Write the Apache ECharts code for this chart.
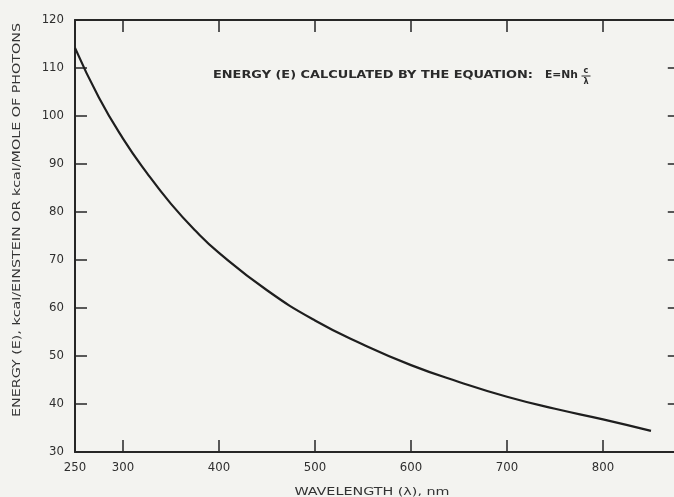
<!DOCTYPE html>
<html>
<head>
<meta charset="utf-8">
<script src="https://cdn.jsdelivr.net/npm/echarts@6/dist/echarts.min.js"></script>
<style>html,body{margin:0;padding:0;background:#f3f3f0}#c{width:674px;height:497px}</style>
</head>
<body>
<div id="c"></div>
<script>
// Data
const wavelengths = [250, 275, 300, 325, 350, 375, 400, 450, 500, 550, 600, 650, 700, 750, 800, 850];
const energies    = [114.2, 103.8, 95.3, 88.1, 81.7, 76.2, 71.5, 63.7, 57.4, 52.4, 48.1, 44.6, 41.5, 39.0, 36.8, 34.4];
const xLabelValues = [250, 300, 400, 500, 600, 700, 800];
const xTickValues  = [300, 400, 500, 600, 700, 800];
const yTickValues  = [40, 50, 60, 70, 80, 90, 100, 110];
const yLabelValues = [30, 40, 50, 60, 70, 80, 90, 100, 110, 120];

const ink = '#262626';
const font = '"DejaVu Sans Condensed", "DejaVu Sans", sans-serif';

// stretch a text horizontally so that it spans the width seen in the reference
const mctx = document.createElement('canvas').getContext('2d');
function stretch(text, f, width) {
  mctx.font = f;
  return width / mctx.measureText(text).width;
}

const noteText = 'ENERGY (E) CALCULATED BY THE EQUATION:';
const noteFont = 'bold 10.5px ' + font;
const eqText = 'E=Nh';
const yName = 'ENERGY (E), kcal/EINSTEIN OR kcal/MOLE OF PHOTONS';
const yFont = '11px ' + font;
const xName = 'WAVELENGTH (λ), nm';
const xFont = '11px ' + font;

const chart = echarts.init(document.getElementById('c'), null, {renderer: 'canvas'});
chart.setOption({
  backgroundColor: '#f3f3f0',
  animation: false,
  grid: {left: 75, top: 20, width: 604.8, height: 432, containLabel: false, outerBoundsMode: 'none'},
  xAxis: [{
    type: 'value', min: 250, max: 880, position: 'bottom',
    axisLine: {show: true, lineStyle: {color: ink, width: 2}},
    axisTick: {show: true, inside: true, length: 12, customValues: xTickValues, lineStyle: {color: ink, width: 1.5}},
    axisLabel: {show: true, customValues: xLabelValues, margin: 9, color: '#2e2e2e', fontSize: 13, fontFamily: font},
    splitLine: {show: false}
  }, {
    type: 'value', min: 250, max: 880, position: 'top',
    axisLine: {show: true, lineStyle: {color: ink, width: 2}},
    axisTick: {show: true, inside: true, length: 12, customValues: xTickValues, lineStyle: {color: ink, width: 1.5}},
    axisLabel: {show: false},
    splitLine: {show: false}
  }],
  yAxis: [{
    type: 'value', min: 30, max: 120, position: 'left',
    axisLine: {show: true, lineStyle: {color: ink, width: 2}},
    axisTick: {show: true, inside: true, length: 12, customValues: yTickValues, lineStyle: {color: ink, width: 1.5}},
    axisLabel: {show: true, customValues: yLabelValues, margin: 11, color: '#2e2e2e', fontSize: 13, fontFamily: font},
    splitLine: {show: false}
  }, {
    type: 'value', min: 30, max: 120, position: 'right',
    axisLine: {show: true, lineStyle: {color: ink, width: 2}},
    axisTick: {show: true, inside: true, length: 12, customValues: yTickValues, lineStyle: {color: ink, width: 1.5}},
    axisLabel: {show: false},
    splitLine: {show: false}
  }],
  series: [{
    type: 'line',
    data: wavelengths.map((w, i) => [w, energies[i]]),
    smooth: true,
    symbol: 'none',
    lineStyle: {color: '#1e1e1e', width: 2.2}
  }],
  graphic: [
    {type: 'text', x: 213, y: 75, scaleX: stretch(noteText, noteFont, 320),
      style: {text: noteText, fill: '#2a2a2a', font: noteFont, align: 'left', verticalAlign: 'middle'}},
    {type: 'text', x: 545, y: 75, scaleX: stretch(eqText, noteFont, 33),
      style: {text: eqText, fill: '#2a2a2a', font: noteFont, align: 'left', verticalAlign: 'middle'}},
    {type: 'text', x: 586, y: 71, style: {text: 'c', fill: '#2a2a2a', font: 'bold 9px ' + font, align: 'center', verticalAlign: 'middle'}},
    {type: 'line', shape: {x1: 581.5, y1: 76, x2: 590.5, y2: 76}, style: {stroke: '#2a2a2a', lineWidth: 1}},
    {type: 'text', x: 586, y: 82, style: {text: 'λ', fill: '#2a2a2a', font: 'bold 9px ' + font, align: 'center', verticalAlign: 'middle'}},
    {type: 'text', x: 17, y: 220, rotation: Math.PI / 2, scaleX: stretch(yName, yFont, 394),
      style: {text: yName, fill: '#333', font: yFont, align: 'center', verticalAlign: 'middle'}},
    {type: 'text', x: 372, y: 492, scaleX: stretch(xName, xFont, 155),
      style: {text: xName, fill: '#333', font: xFont, align: 'center', verticalAlign: 'middle'}}
  ]
});
</script>
</body>
</html>
